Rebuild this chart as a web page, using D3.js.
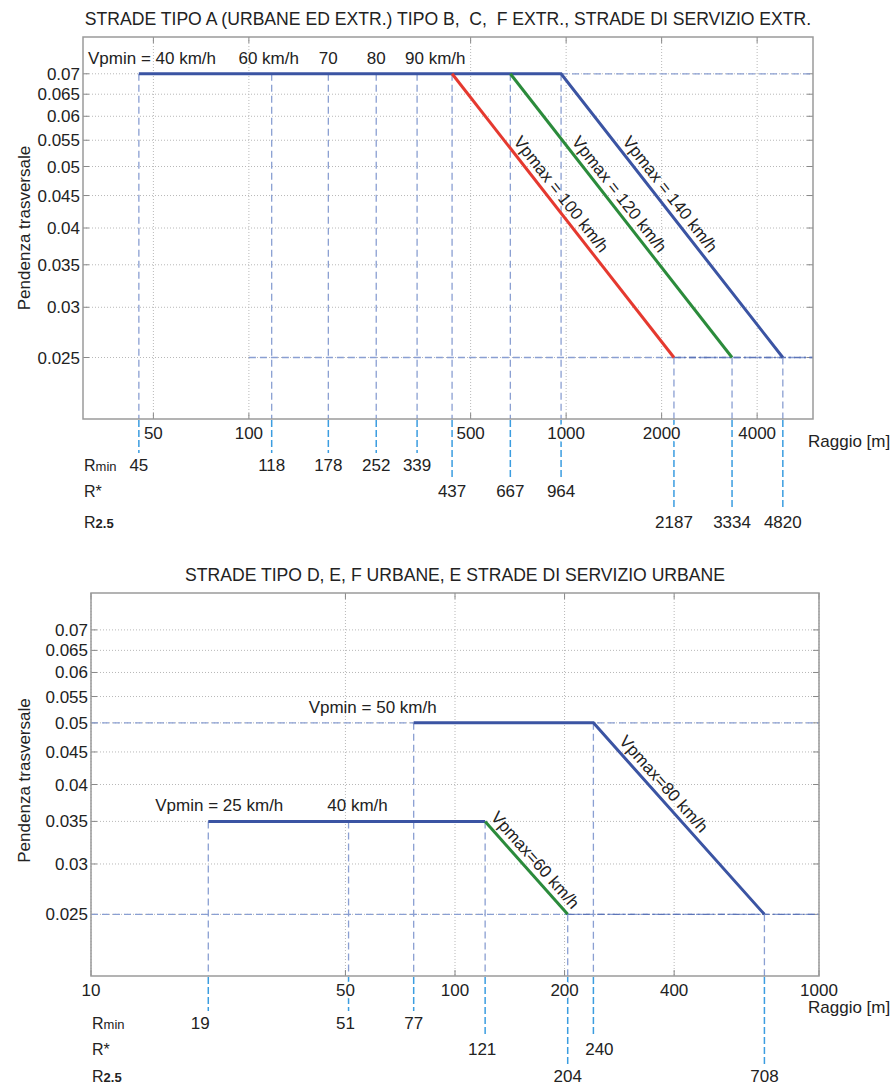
<!DOCTYPE html>
<html lang="it">
<head>
<meta charset="UTF-8">
<title>Pendenza trasversale - raggio</title>
<script src="https://d3js.org/d3.v7.min.js"></script>
<style>
  body { margin: 0; background: #fff; }
  svg text { font-family: "Liberation Sans", Arial, sans-serif; fill: #222; font-size: 17px; }
  .frame { fill: none; stroke: #9a9a9a; stroke-width: 1.5px; }
  .grid { stroke: #b8b8b8; stroke-width: 1px; stroke-dasharray: 1,2; }
  .tick { stroke: #888; stroke-width: 1px; }
  .drop { stroke: #8a9fd2; stroke-width: 1.3px; stroke-dasharray: 7,4; fill: none; }
  .drop-dark { stroke: #5d75b8; stroke-width: 1.3px; stroke-dasharray: 7,3,2,3; fill: none; }
  .drop-out { stroke: #3b9de0; stroke-width: 1.5px; stroke-dasharray: 7,3; }
  .curve { fill: none; stroke-width: 3px; }
  .halo { paint-order: stroke; stroke: #fff; stroke-width: 5px; stroke-linejoin: round; }
  .title { white-space: pre; }
</style>
</head>
<body>
<div id="chart"></div>
<script>
// ---- shared ----
var yTicks = [0.025, 0.03, 0.035, 0.04, 0.045, 0.05, 0.055, 0.06, 0.065, 0.07];
var iMax = 0.07, iMin = 0.025;

// ---- top chart: strade tipo A, B, C, F extr. ----
var topTitle = "STRADE TIPO A (URBANE ED EXTR.) TIPO B,  C,  F EXTR., STRADE DI SERVIZIO EXTR.";
var topXTicks = [50, 100, 500, 1000, 2000, 4000];
var topRmin = [45, 118, 178, 252, 339];
var topRstar = [437, 667, 964];
var topR25 = [2187, 3334, 4820];
var topVmin = ["Vpmin = 40 km/h", "60 km/h", "70", "80", "90 km/h"];
var topVmax = ["Vpmax = 100 km/h", "Vpmax = 120 km/h", "Vpmax = 140 km/h"];

// ---- bottom chart: strade tipo D, E, F urbane ----
var botTitle = "STRADE TIPO D, E, F URBANE, E STRADE DI SERVIZIO URBANE";
var botXTicks = [10, 50, 100, 200, 400, 1000];
var botRmin = [21, 51, 77];          // line positions as drawn
var botRminText = ["19", "51", "77"]; // printed values
var botRstar = [121, 240];
var botR25 = [204, 708];
var botLevel = [0.035, 0.05];        // plateau of each branch
var botVmin = ["Vpmin = 25 km/h", "40 km/h", "Vpmin = 50 km/h"];
var botVmax = ["Vpmax=60 km/h", "Vpmax=80 km/h"];

var blue = "#3b54a3", red = "#e5392f", green = "#2b8b3b";

var svg = d3.select("#chart").append("svg")
    .attr("width", 893).attr("height", 1086);

function panel(o) {
  var g = svg.append("g").attr("transform", "translate(" + o.left + "," + o.top + ")");
  var x = d3.scaleLog().domain(o.xDomain).range([0, o.width]);
  var y = d3.scaleLog().domain([0.02, 0.08]).range([o.height, 0]);

  // grid
  g.selectAll(".gy").data(yTicks).enter().append("line").attr("class", "grid")
    .attr("x1", 0).attr("x2", o.width).attr("y1", d => y(d)).attr("y2", d => y(d));
  g.selectAll(".gx").data(o.xTicks).enter().append("line").attr("class", "grid")
    .attr("x1", d => x(d)).attr("x2", d => x(d)).attr("y1", 0).attr("y2", o.height);

  // tick marks inside the frame
  yTicks.forEach(function(d) {
    g.append("line").attr("class", "tick").attr("x1", 0).attr("x2", 6).attr("y1", y(d)).attr("y2", y(d));
    g.append("line").attr("class", "tick").attr("x1", o.width - 6).attr("x2", o.width).attr("y1", y(d)).attr("y2", y(d));
  });
  o.xTicks.forEach(function(d) {
    g.append("line").attr("class", "tick").attr("x1", x(d)).attr("x2", x(d)).attr("y1", o.height).attr("y2", o.height - 6);
    g.append("line").attr("class", "tick").attr("x1", x(d)).attr("x2", x(d)).attr("y1", 0).attr("y2", 6);
  });

  // dashed reference lines (horizontal)
  o.hDash.forEach(function(h) {
    g.append("line").attr("class", h.cls)
      .attr("x1", x(h.from)).attr("x2", x(h.to)).attr("y1", y(h.level)).attr("y2", y(h.level));
  });

  // dashed drops: inside plot, then below the axis to the value row
  var rowY = o.rows;
  o.drops.forEach(function(d) {
    g.append("line").attr("class", "drop")
      .attr("x1", x(d.r)).attr("x2", x(d.r)).attr("y1", y(d.level)).attr("y2", o.height);
    g.append("line").attr("class", "drop-out")
      .attr("x1", x(d.r)).attr("x2", x(d.r)).attr("y1", o.height + 1).attr("y2", o.height + rowY[d.row] - 12);
    g.append("text").attr("x", x(d.r) + (d.dx || 0)).attr("y", o.height + rowY[d.row] + 6)
      .attr("text-anchor", "middle").text(d.text);
  });

  // x tick labels (white halo hides the drops behind them)
  g.selectAll(".xl").data(o.xTicks).enter().append("text").attr("class", "halo")
    .attr("x", d => x(d)).attr("y", o.height + 20)
    .attr("text-anchor", "middle").text(d => d);

  // y tick labels
  g.selectAll(".yl").data(yTicks).enter().append("text")
    .attr("x", -3).attr("y", d => y(d) + 6)
    .attr("text-anchor", "end").text(d => d);

  // curves
  o.curves.forEach(function(c) {
    g.append("path").attr("class", "curve").attr("stroke", c.color)
      .attr("d", d3.line().x(p => x(p[0])).y(p => y(p[1]))(c.pts));
  });

  // rotated vmax labels along the sloped part
  o.slopeLabels.forEach(function(s) {
    var x0 = x(s.a[0]), y0 = y(s.a[1]), x1 = x(s.b[0]), y1 = y(s.b[1]);
    var ang = Math.atan2(y1 - y0, x1 - x0) * 180 / Math.PI;
    var px = x0 + s.t * (x1 - x0), py = y0 + s.t * (y1 - y0);
    g.append("text").attr("transform", "translate(" + px + "," + py + ") rotate(" + ang + ")")
      .attr("y", -6).attr("text-anchor", "middle").text(s.text);
  });

  // vmin labels
  o.levelLabels.forEach(function(l) {
    g.append("text").attr("x", l.x(x)).attr("y", y(l.level) - 10)
      .attr("text-anchor", l.anchor).text(l.text);
  });

  // frame
  g.append("rect").attr("class", "frame").attr("width", o.width).attr("height", o.height);

  // titles and axis names
  g.append("text").attr("class", "title").attr("x", o.width / 2).attr("y", -12).attr("text-anchor", "middle")
    .style("font-size", "17.6px").text(o.title);
  g.append("text").attr("transform", "translate(" + (-o.left + 30) + "," + (o.height / 2 + o.ylabDy) + ") rotate(-90)")
    .attr("text-anchor", "middle").text("Pendenza trasversale");
  g.append("text").attr("x", o.width + o.raggioDx).attr("y", o.height + o.raggioDy).text("Raggio [m]");

  // row names R min, R*, R2.5
  var names = [["R", "min"], ["R", "*"], ["R", "2.5"]];
  names.forEach(function(n, i) {
    var t = g.append("text").attr("x", 1).attr("y", o.height + rowY[i] + 6).style("font-size", "16px");
    t.append("tspan").text(n[0]);
    t.append("tspan").style("font-size", i === 1 ? "16px" : "13px")
      .style("font-weight", i === 2 ? "bold" : "normal").text(n[1]);
  });
}

// top panel
panel({
  left: 83, top: 37, width: 730, height: 382, xDomain: [30, 6000],
  xTicks: topXTicks, title: topTitle, raggioDx: -5, raggioDy: 28, ylabDy: 0,
  rows: [46, 72, 103],
  hDash: [
    { level: iMax, from: topRstar[2], to: 6000, cls: "drop" },
    { level: iMin, from: 100, to: 6000, cls: "drop" },
    { level: iMin, from: topR25[0], to: 6000, cls: "drop-dark" }
  ],
  drops: topRmin.map(r => ({ r: r, level: iMax, row: 0, text: r }))
    .concat(topRstar.map(r => ({ r: r, level: iMax, row: 1, text: r })))
    .concat(topR25.map(r => ({ r: r, level: iMin, row: 2, text: r }))),
  curves: [
    { color: blue, pts: [[topRmin[0], iMax], [topRstar[2], iMax], [topR25[2], iMin]] },
    { color: red, pts: [[topRstar[0], iMax], [topR25[0], iMin]] },
    { color: green, pts: [[topRstar[1], iMax], [topR25[1], iMin]] }
  ],
  slopeLabels: [0, 1, 2].map(i => ({ a: [topRstar[i], iMax], b: [topR25[i], iMin], t: 0.45, text: topVmax[i] })),
  levelLabels: [
    { text: topVmin[0], level: iMax, anchor: "start", x: x => 5 },
    { text: topVmin[1], level: iMax, anchor: "middle", x: x => x(topRmin[1]) - 3 },
    { text: topVmin[2], level: iMax, anchor: "middle", x: x => x(topRmin[2]) },
    { text: topVmin[3], level: iMax, anchor: "middle", x: x => x(topRmin[3]) },
    { text: topVmin[4], level: iMax, anchor: "start", x: x => x(topRmin[4]) - 12 }
  ]
});

// bottom panel
panel({
  left: 91, top: 593, width: 728, height: 383, xDomain: [10, 1000],
  xTicks: botXTicks, title: botTitle, raggioDx: -11, raggioDy: 37, ylabDy: -4,
  rows: [47, 73, 100],
  hDash: [
    { level: botLevel[1], from: 10, to: 1000, cls: "drop" },
    { level: iMin, from: 10, to: 1000, cls: "drop" },
    { level: iMin, from: botR25[0], to: 1000, cls: "drop-dark" }
  ],
  drops: [
    { r: botRmin[0], level: botLevel[0], row: 0, text: botRminText[0], dx: -8 },
    { r: botRmin[1], level: botLevel[0], row: 0, text: botRminText[1], dx: -3 },
    { r: botRmin[2], level: botLevel[1], row: 0, text: botRminText[2] },
    { r: botRstar[0], level: botLevel[0], row: 1, text: botRstar[0], dx: -3 },
    { r: botRstar[1], level: botLevel[1], row: 1, text: botRstar[1], dx: 6 },
    { r: botR25[0], level: iMin, row: 2, text: botR25[0] },
    { r: botR25[1], level: iMin, row: 2, text: botR25[1] }
  ],
  curves: [
    { color: blue, pts: [[botRmin[0], botLevel[0]], [botRstar[0], botLevel[0]]] },
    { color: green, pts: [[botRstar[0], botLevel[0]], [botR25[0], iMin]] },
    { color: blue, pts: [[botRmin[2], botLevel[1]], [botRstar[1], botLevel[1]], [botR25[1], iMin]] }
  ],
  slopeLabels: [
    { a: [botRstar[0], botLevel[0]], b: [botR25[0], iMin], t: 0.5, text: botVmax[0] },
    { a: [botRstar[1], botLevel[1]], b: [botR25[1], iMin], t: 0.36, text: botVmax[1] }
  ],
  levelLabels: [
    { text: botVmin[0], level: botLevel[0], anchor: "start", x: x => x(botRmin[0]) - 53 },
    { text: botVmin[1], level: botLevel[0], anchor: "middle", x: x => x(botRmin[1]) + 9 },
    { text: botVmin[2], level: botLevel[1], anchor: "end", x: x => x(botRmin[2]) + 23 }
  ]
});
</script>
</body>
</html>
